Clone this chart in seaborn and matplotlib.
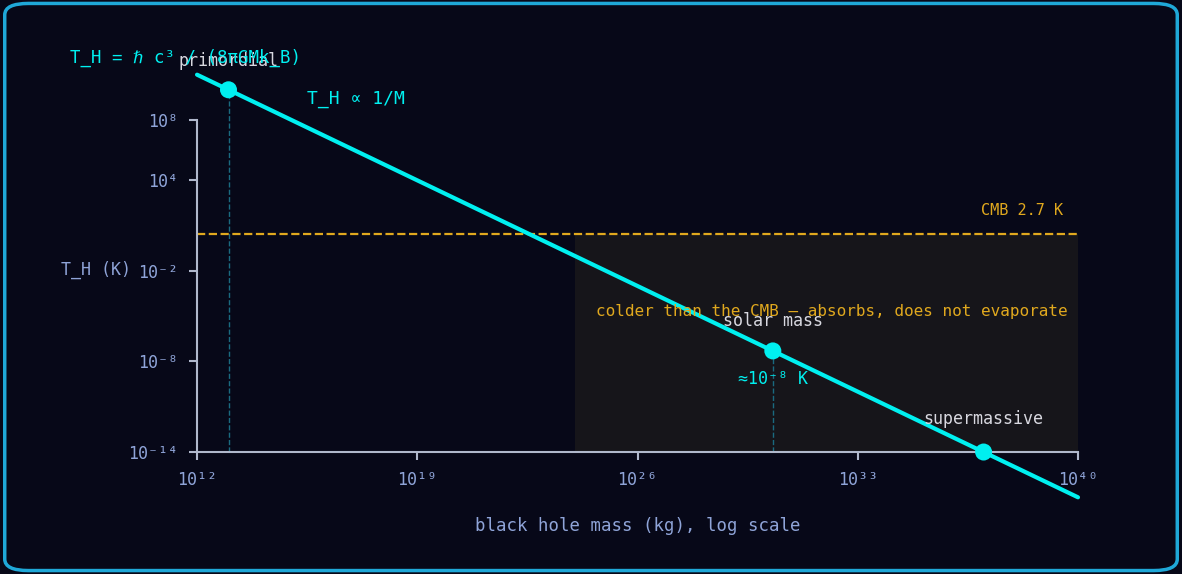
import numpy as np
import matplotlib
matplotlib.use("Agg")
import matplotlib.pyplot as plt
import seaborn as sns
from matplotlib.patches import FancyBboxPatch

sns.set_theme(style="dark")
plt.rcParams['font.family'] = ['DejaVu Sans Mono', 'DejaVu Sans']

line_mass = [1e12, 1e40]
line_temp = [1.0e11, 1.0e-17]
pt_names = ["primordial", "solar mass", "supermassive"]
pt_mass = [1e13, 2e30, 1e37]
pt_temp = [1.0e10, 5e-8, 1.0e-14]
cmb_temp = 2.7
xticks = [1e12, 1e19, 1e26, 1e33, 1e40]
xticklabels = ["10¹²", "10¹⁹", "10²⁶", "10³³", "10⁴⁰"]
yticks = [1e8, 1e4, 1e-2, 1e-8, 1e-14]
yticklabels = ["10⁸", "10⁴", "10⁻²", "10⁻⁸", "10⁻¹⁴"]

bg = "#070818"
cyan = "#00f0f0"
orange = "#e0a81e"
tick_c = "#8fa4d8"

fig = plt.figure(figsize=(11.82, 5.74), dpi=100, facecolor=bg)
fig.patches.append(FancyBboxPatch((0.004, 0.006), 0.992, 0.988, boxstyle="round,pad=0,rounding_size=0.02",
                                  transform=fig.transFigure, fc=bg, ec="#1fa8d8", lw=2.5, zorder=-1))
ax = fig.add_axes([0.1667, 0.2125, 0.7453, 0.5785])
ax.set_facecolor("none")
ax.set_xscale("log"); ax.set_yscale("log")
ax.set_xlim(1e12, 1e40); ax.set_ylim(1e-14, 1e8)

ax.fill_between([1e24, 1e40], [1e-14, 1e-14], [cmb_temp, cmb_temp], color="#16151a", lw=0, zorder=0)
ax.plot([1e12, 1e40], [cmb_temp, cmb_temp], ls="--", color=orange, lw=1.6, zorder=2, clip_on=False)
sns.lineplot(x=line_mass, y=line_temp, ax=ax, color=cyan, lw=3, zorder=3)
for l in ax.lines:
    l.set_clip_on(False)
for m, t in zip(pt_mass, pt_temp):
    ax.plot([m, m], [1e-14, t], ls="--", color="#1a6a80", lw=1, zorder=1, clip_on=False)
sns.scatterplot(x=pt_mass, y=pt_temp, ax=ax, color=cyan, s=150, edgecolor="none", zorder=4, clip_on=False)

ax.text(1e13, pt_temp[0] * 20, "primordial", color="#d8d8e0", fontsize=12, ha="center", va="bottom")
ax.text(2e30, pt_temp[1] * 25, "solar mass", color="#d8d8e0", fontsize=12, ha="center", va="bottom")
ax.text(1e37, pt_temp[2] * 40, "supermassive", color="#d8d8e0", fontsize=12, ha="center", va="bottom")
ax.text(2e30, pt_temp[1] / 70, "≈10⁻⁸ K", color=cyan, fontsize=12, ha="center", va="center")
ax.text(1e40 / 3, cmb_temp * 12, "CMB 2.7 K", color=orange, fontsize=11, ha="right", va="bottom")
ax.text(1.5e32, 2e-5, "colder than the CMB — absorbs, does not evaporate", color=orange, fontsize=11.5, ha="center", va="center")
fig.text(0.26, 0.82, "T_H ∝ 1/M", color=cyan, fontsize=13)
fig.text(0.059, 0.9, "T_H = ℏ c³ / (8πGMk_B)", color=cyan, fontsize=12.5, va="center")

ax.set_xticks(xticks); ax.set_xticklabels(xticklabels)
ax.set_yticks(yticks); ax.set_yticklabels(yticklabels)
ax.minorticks_off()
ax.tick_params(colors=tick_c, labelsize=12, length=6, width=1.5, color="#b0b8cc", bottom=True, left=True, pad=8)
ax.grid(False)
for s in ["top", "right"]:
    ax.spines[s].set_visible(False)
for s in ["left", "bottom"]:
    ax.spines[s].set_color("#b0b8cc"); ax.spines[s].set_linewidth(1.5)
ax.set_xlabel("black hole mass (kg), log scale", color=tick_c, fontsize=12.5, labelpad=20)
ax.set_ylabel("T_H (K)", color=tick_c, fontsize=12, rotation=0, labelpad=0)
ax.yaxis.set_label_coords(-0.115, 0.52)
fig.savefig("out.png", dpi=100, facecolor=bg)
